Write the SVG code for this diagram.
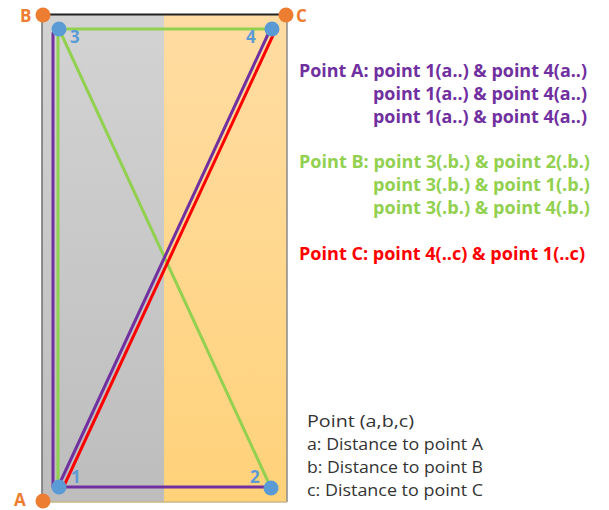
<svg xmlns="http://www.w3.org/2000/svg" width="609" height="510" viewBox="0 0 609 510">
<defs>
<linearGradient id="gGray" x1="0" y1="0" x2="0" y2="1"><stop offset="0" stop-color="#d3d3d3"/><stop offset="1" stop-color="#bdbdbd"/></linearGradient>
<linearGradient id="gOrange" x1="0" y1="0" x2="0" y2="1"><stop offset="0" stop-color="#ffdca3"/><stop offset="1" stop-color="#ffd27a"/></linearGradient>
<style>
.ln{fill:none;stroke-width:3;stroke-linecap:round}
.pu{stroke:#7030a0}.gr{stroke:#92d050}.rd{stroke:#ff0000}
.pt{fill:#5b9bd5}.cn{fill:#ed7d31}
.num{font-family:"Open Sans","Noto Sans",sans-serif;font-weight:bold;font-size:17px;fill:#5b9bd5}
.cl{font-family:"Open Sans","Noto Sans",sans-serif;font-weight:bold;font-size:17px;fill:#ed7d31}
.t{font-family:"Open Sans","Noto Sans",sans-serif;font-weight:bold;font-size:18px}
.lg{font-family:"Open Sans","Noto Sans",sans-serif;font-size:17px;fill:#333333}
</style>
</defs>
<g id="background">
<rect x="42" y="14" width="122" height="488" fill="url(#gGray)"/>
<rect x="164" y="14" width="123" height="488" fill="url(#gOrange)"/>
<line x1="42" y1="14" x2="42" y2="502" stroke="#6f6f6f" stroke-width="1.5"/>
<line x1="287" y1="14" x2="287" y2="502" stroke="#8a8a8a" stroke-width="1.5"/>
<line x1="42" y1="502" x2="287" y2="502" stroke="#c8b888" stroke-width="1.5"/>
<line x1="42" y1="14.5" x2="287" y2="14.5" stroke="#222222" stroke-width="2"/>
</g>
<g id="connectors">
<line class="ln pu" x1="53" y1="33" x2="53" y2="487"/>
<line class="ln gr" x1="58" y1="29" x2="58" y2="487"/>
<line class="ln gr" x1="59" y1="29" x2="272" y2="29"/>
<line class="ln gr" x1="59" y1="29" x2="271" y2="488"/>
<line class="ln pu" x1="59" y1="487" x2="271" y2="487"/>
<line class="ln pu" x1="58" y1="487" x2="270" y2="30"/>
<line class="ln rd" x1="63" y1="488" x2="275" y2="31"/>
</g>
<g id="corner-B"><circle class="cn" cx="43" cy="15" r="7.5"/><text class="cl" x="20" y="22">B</text></g>
<g id="corner-C"><circle class="cn" cx="286" cy="15" r="7.5"/><text class="cl" x="296" y="22">C</text></g>
<g id="corner-A"><circle class="cn" cx="43" cy="501" r="7.5"/><text class="cl" x="14" y="506">A</text></g>
<g id="point-3"><circle class="pt" cx="59" cy="29" r="7.5"/><text class="num" x="70" y="43">3</text></g>
<g id="point-4"><circle class="pt" cx="272" cy="29" r="7.5"/><text class="num" x="246" y="43">4</text></g>
<g id="point-1"><circle class="pt" cx="59" cy="487" r="7.5"/><text class="num" x="71" y="483">1</text></g>
<g id="point-2"><circle class="pt" cx="271" cy="488" r="7.5"/><text class="num" x="250" y="483">2</text></g>
<g id="text-A" class="t" fill="#7030a0">
<text x="299" y="77" textLength="288" lengthAdjust="spacingAndGlyphs">Point A: point 1(a..) &amp; point 4(a..)</text>
<text x="373" y="100" textLength="214" lengthAdjust="spacingAndGlyphs">point 1(a..) &amp; point 4(a..)</text>
<text x="373" y="123" textLength="214" lengthAdjust="spacingAndGlyphs">point 1(a..) &amp; point 4(a..)</text>
</g>
<g id="text-B" class="t" fill="#92d050">
<text x="299" y="168" textLength="291" lengthAdjust="spacingAndGlyphs">Point B: point 3(.b.) &amp; point 2(.b.)</text>
<text x="373" y="191" textLength="217" lengthAdjust="spacingAndGlyphs">point 3(.b.) &amp; point 1(.b.)</text>
<text x="373" y="214" textLength="217" lengthAdjust="spacingAndGlyphs">point 3(.b.) &amp; point 4(.b.)</text>
</g>
<g id="text-C" class="t" fill="#ff0000">
<text x="299" y="260" textLength="286" lengthAdjust="spacingAndGlyphs">Point C: point 4(..c) &amp; point 1(..c)</text>
</g>
<g id="legend" class="lg">
<text x="307" y="427" textLength="107" lengthAdjust="spacingAndGlyphs">Point (a,b,c)</text>
<text x="307" y="450" textLength="176" lengthAdjust="spacingAndGlyphs">a: Distance to point A</text>
<text x="307" y="473" textLength="176" lengthAdjust="spacingAndGlyphs">b: Distance to point B</text>
<text x="307" y="496" textLength="176" lengthAdjust="spacingAndGlyphs">c: Distance to point C</text>
</g>
</svg>
